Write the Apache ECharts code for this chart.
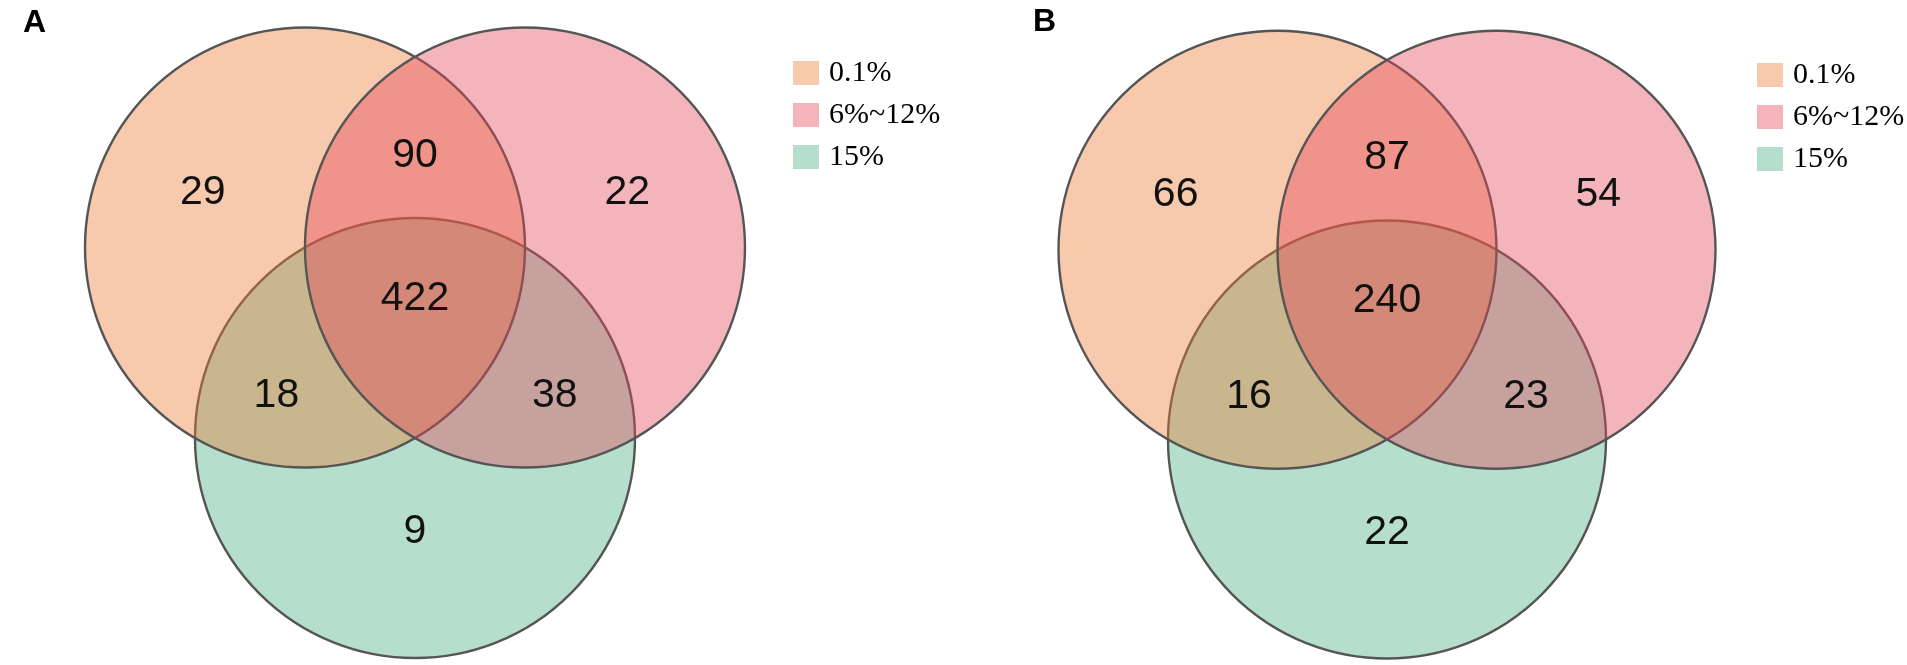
<!DOCTYPE html>
<html><head><meta charset="utf-8">
<script src="https://cdn.jsdelivr.net/npm/echarts@6/dist/echarts.min.js"></script>
<style>html,body{margin:0;padding:0;background:#fff}#chart{width:1907px;height:665px}</style>
</head><body><div id="chart"></div>
<script>
// ---- data ----
const setNames = ['0.1%', '6%~12%', '15%'];
const regionKeys = ['A', 'B', 'C', 'AB', 'AC', 'BC', 'ABC'];
const countsPanelA = [29, 22, 9, 90, 18, 38, 422];
const countsPanelB = [66, 54, 22, 87, 16, 23, 240];
const panelLabels = ['A', 'B'];

// ---- layout (units of circle radius) ----
const CENTERS = [[-0.5, -0.2887], [0.5, -0.2887], [0, 0.5774]];
const LABEL_POS = {
  A: [-0.965, -0.54], B: [0.965, -0.54], C: [0, 1.005],
  AB: [0, -0.708], AC: [-0.63, 0.383], BC: [0.635, 0.383], ABC: [0, -0.057]
};
const SET_COLORS = ['rgba(235,120,50,0.4)', 'rgba(228,68,88,0.4)', 'rgba(70,175,128,0.4)'];
const DRAW_ORDER = [2, 0, 1];
const GRIDS = [
  { left: 19, top: 3, width: 792, height: 616 },
  { left: 992.8, top: 6.4, width: 788.4, height: 613.2 }
];
const LEGEND_POS = [{ left: 793, top: 58 }, { left: 1757, top: 60 }];
const TITLE_POS = [{ left: 23, top: 7 }, { left: 1033, top: 6 }];

const chart = echarts.init(document.getElementById('chart'), null, { renderer: 'canvas' });
const series = [];
[countsPanelA, countsPanelB].forEach((counts, p) => {
  DRAW_ORDER.forEach(i => {
    series.push({
      type: 'custom', name: setNames[i], coordinateSystem: 'cartesian2d',
      xAxisIndex: p, yAxisIndex: p, clip: false, silent: true,
      itemStyle: { color: SET_COLORS[i] },
      data: [CENTERS[i]],
      renderItem: (params, api) => {
        const c = api.coord([api.value(0), api.value(1)]);
        const r = api.size([1, 0])[0];
        return { type: 'circle', shape: { cx: c[0], cy: c[1], r: r },
          style: { fill: SET_COLORS[i], stroke: '#555555', lineWidth: 2.4 } };
      }
    });
  });
  series.push({
    type: 'custom', name: 'counts' + p, coordinateSystem: 'cartesian2d',
    xAxisIndex: p, yAxisIndex: p, clip: false, silent: true, z: 5,
    data: regionKeys.map((k, j) => [LABEL_POS[k][0], LABEL_POS[k][1], counts[j]]),
    renderItem: (params, api) => {
      const c = api.coord([api.value(0), api.value(1)]);
      return { type: 'text', x: c[0], y: c[1],
        style: { text: String(api.value(2)), fill: '#111', font: '41px "Liberation Sans", Arial, sans-serif',
          align: 'center', verticalAlign: 'middle' } };
    }
  });
});

chart.setOption({
  animation: false,
  backgroundColor: '#fff',
  title: panelLabels.map((t, p) => ({
    text: t, left: TITLE_POS[p].left, top: TITLE_POS[p].top, padding: 0,
    textStyle: { fontFamily: 'Liberation Sans', fontWeight: 'bold', fontSize: 32, color: '#000' }
  })),
  legend: LEGEND_POS.map(pos => ({
    data: setNames, orient: 'vertical', left: pos.left, top: pos.top, padding: 0,
    icon: 'rect', itemWidth: 26, itemHeight: 24, itemGap: 12, selectedMode: false,
    itemStyle: { borderWidth: 0 },
    textStyle: { fontFamily: 'Liberation Serif', fontSize: 30, color: '#000', padding: [0, 0, 0, 5] }
  })),
  grid: GRIDS.map(g => Object.assign({}, g)),
  xAxis: GRIDS.map((g, p) => ({ type: 'value', gridIndex: p, min: -1.8, max: 1.8, show: false })),
  yAxis: GRIDS.map((g, p) => ({ type: 'value', gridIndex: p, min: -1.4, max: 1.4, inverse: true, show: false })),
  series: series
});
</script></body></html>
